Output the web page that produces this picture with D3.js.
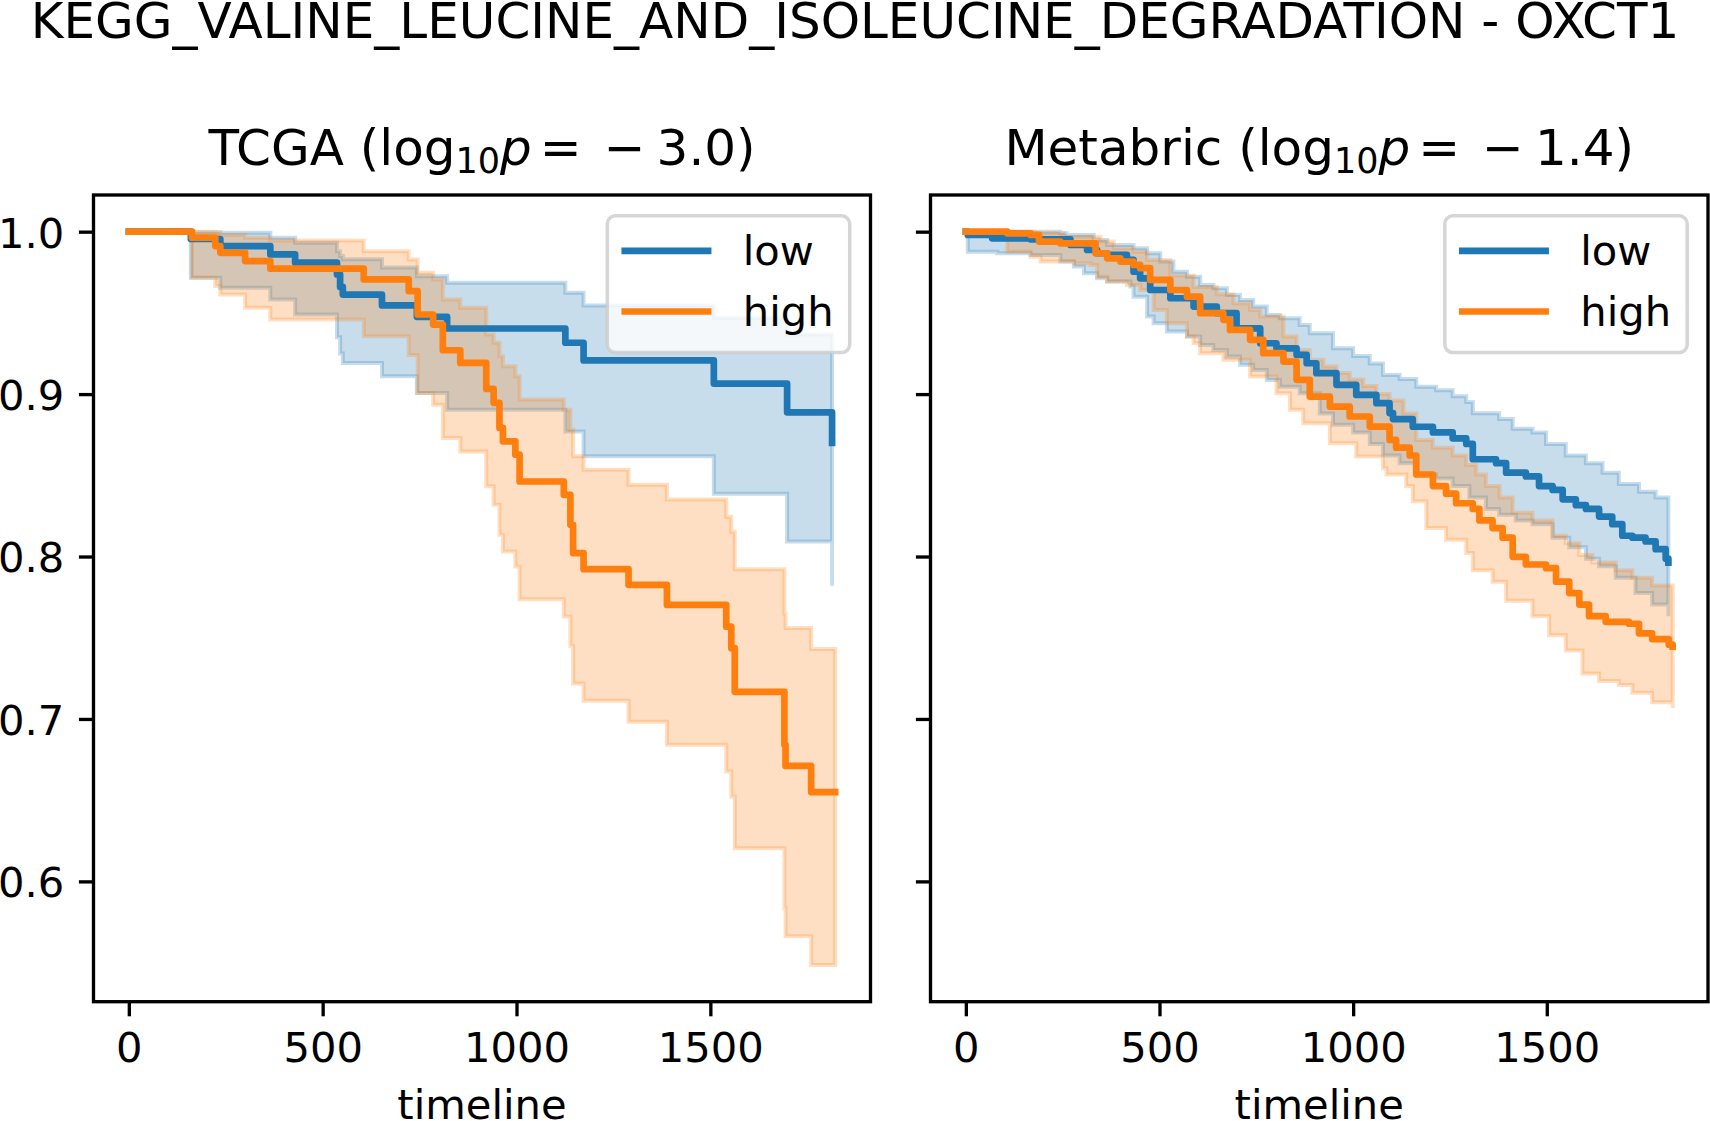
<!DOCTYPE html>
<html>
<head>
<meta charset="utf-8">
<script src="https://cdn.jsdelivr.net/npm/d3@7"></script>
<style>
  body { margin: 0; background: #fff; }
  svg text { font-family: "DejaVu Sans", sans-serif; fill: #000; }
</style>
</head>
<body>
<div id="container"></div>
<script>
const mainTitle = "KEGG_VALINE_LEUCINE_AND_ISOLEUCINE_DEGRADATION - OXCT1";
const cohorts = ["TCGA", "Metabric"];
const cohortLog10p = [-3.0, -1.4];
const groups = ["low", "high"];
const groupColors = ["#1f77b4", "#ff7f0e"];
const xTicks = [0, 500, 1000, 1500];
const yTicks = [0.6, 0.7, 0.8, 0.9, 1.0];
const xLabel = "timeline";

// TCGA - low group (survival and 95% CI at each step)
const tcgaLowTime  = [0, 160, 236, 365, 429, 537, 545, 552, 653, 743, 821, 1126, 1173, 1509, 1698, 1814];
const tcgaLowSurv  = [1.0, 0.9955, 0.9911, 0.986, 0.9809, 0.9737, 0.966, 0.9613, 0.9546, 0.9476, 0.9404, 0.9316, 0.9207, 0.9065, 0.8888, 0.870];
const tcgaLowUpper = [1.0, 0.9997, 0.9994, 0.9963, 0.9932, 0.988, 0.985, 0.983, 0.978, 0.9726, 0.9686, 0.9624, 0.9546, 0.947, 0.9367, 0.930];
const tcgaLowLower = [1.0, 0.9716, 0.9655, 0.9583, 0.949, 0.935, 0.925, 0.9192, 0.911, 0.9007, 0.8904, 0.877, 0.8617, 0.8387, 0.8092, 0.782];

// TCGA - high group
const tcgaHighTime  = [0, 163, 223, 236, 300, 365, 606, 722, 745, 785, 810, 855, 922, 941, 956, 965, 997, 1008, 1122, 1139, 1146, 1173, 1289, 1388, 1541, 1554, 1563, 1691, 1694, 1760, 1822];
const tcgaHighSurv  = [1.0, 0.9963, 0.9911, 0.987, 0.9819, 0.9772, 0.9706, 0.9634, 0.949, 0.9428, 0.927, 0.9192, 0.9032, 0.8946, 0.8792, 0.8709, 0.8627, 0.8462, 0.838, 0.8195, 0.8021, 0.7922, 0.7826, 0.7702, 0.7568, 0.7436, 0.7167, 0.6841, 0.6711, 0.655, 0.655];
const tcgaHighUpper = [1.0, 1.0, 0.9995, 0.998, 0.9963, 0.9945, 0.988, 0.9829, 0.9747, 0.9706, 0.9583, 0.9531, 0.9367, 0.9316, 0.9233, 0.9171, 0.911, 0.8966, 0.8904, 0.8781, 0.8617, 0.8535, 0.8442, 0.8351, 0.8245, 0.8152, 0.7922, 0.765, 0.756, 0.7431, 0.7431];
const tcgaHighLower = [1.0, 0.9716, 0.9665, 0.9613, 0.9531, 0.9459, 0.9356, 0.924, 0.9007, 0.8935, 0.873, 0.8647, 0.8432, 0.8319, 0.8134, 0.8031, 0.7938, 0.7737, 0.7631, 0.745, 0.7219, 0.7112, 0.6983, 0.6841, 0.6676, 0.6523, 0.6204, 0.5838, 0.5662, 0.5485, 0.5485];

// Metabric - low group, [time, value]
const metaLowSurv = [[0,1.0],[5,0.998],[68,0.9959],[167,0.9953],[270,0.9918],[313,0.9887],[339,0.9867],[365,0.9857],[416,0.9826],[433,0.9754],[450,0.9713],[476,0.9641],[528,0.959],[588,0.9539],[648,0.9498],[699,0.9405],[760,0.9313],[802,0.9282],[854,0.9241],[880,0.919],[905,0.9129],[957,0.9057],[1008,0.8995],[1060,0.8944],[1094,0.8883],[1103,0.8846],[1154,0.8799],[1206,0.8764],[1257,0.8728],[1292,0.8693],[1309,0.8599],[1369,0.8575],[1395,0.8516],[1446,0.8493],[1480,0.8434],[1515,0.841],[1541,0.8352],[1575,0.8316],[1601,0.8293],[1635,0.8246],[1669,0.8199],[1695,0.8128],[1721,0.8116],[1755,0.8093],[1781,0.8045],[1807,0.7987],[1814,0.7963]];
const metaLowUpper = [[0,1.0],[244,0.999],[260,0.998],[330,0.9949],[365,0.9918],[433,0.9898],[468,0.9867],[502,0.9816],[536,0.9754],[571,0.9723],[605,0.9672],[639,0.9652],[674,0.961],[708,0.958],[742,0.9539],[777,0.9487],[811,0.9467],[862,0.9426],[888,0.9375],[948,0.9282],[1000,0.9235],[1043,0.9188],[1077,0.9117],[1120,0.9093],[1163,0.9046],[1214,0.9023],[1257,0.8987],[1292,0.8952],[1309,0.8882],[1377,0.8846],[1412,0.8787],[1463,0.8764],[1498,0.8693],[1549,0.8622],[1601,0.8575],[1644,0.8516],[1686,0.8446],[1738,0.8399],[1781,0.8363],[1814,0.8293]];
const metaLowLower = [[0,1.0],[5,0.9877],[81,0.9867],[167,0.9857],[244,0.9816],[279,0.9785],[305,0.9744],[339,0.9713],[365,0.9693],[425,0.9662],[433,0.96],[468,0.9477],[485,0.9436],[519,0.9385],[571,0.9354],[605,0.9303],[639,0.9272],[674,0.9231],[708,0.918],[742,0.9149],[777,0.9087],[811,0.9046],[862,0.9005],[914,0.8881],[948,0.8811],[1000,0.8764],[1043,0.8693],[1077,0.8622],[1120,0.8575],[1163,0.8505],[1214,0.8481],[1257,0.8434],[1300,0.8363],[1343,0.8293],[1377,0.8257],[1420,0.8222],[1463,0.8199],[1515,0.8116],[1558,0.8057],[1601,0.7987],[1635,0.794],[1678,0.7869],[1729,0.7775],[1772,0.7704],[1814,0.7633]];

// Metabric - high group
const metaHighSurv = [[0,1.0],[107,0.999],[167,0.998],[189,0.9939],[244,0.9928],[335,0.9867],[365,0.9836],[399,0.9816],[433,0.9795],[450,0.9775],[476,0.9703],[528,0.9641],[571,0.96],[605,0.9498],[665,0.9457],[682,0.9395],[734,0.9334],[768,0.9252],[820,0.92],[854,0.9088],[888,0.8985],[940,0.8923],[991,0.8862],[1043,0.88],[1094,0.8718],[1111,0.867],[1146,0.8622],[1163,0.8505],[1206,0.8434],[1240,0.8387],[1266,0.8328],[1309,0.8293],[1326,0.8222],[1360,0.8175],[1386,0.8116],[1412,0.7998],[1446,0.7951],[1498,0.7928],[1524,0.7845],[1558,0.7775],[1584,0.7704],[1609,0.7633],[1652,0.7598],[1712,0.7586],[1738,0.7527],[1772,0.7492],[1815,0.7457],[1825,0.7445]];
const metaHighUpper = [[0,1.0],[176,0.999],[253,0.9969],[348,0.9939],[382,0.9898],[433,0.9877],[468,0.9826],[528,0.973],[588,0.966],[648,0.9615],[691,0.9559],[734,0.9518],[760,0.9477],[820,0.9354],[854,0.9272],[888,0.9211],[923,0.917],[957,0.913],[991,0.909],[1026,0.905],[1060,0.9],[1094,0.896],[1130,0.888],[1163,0.8717],[1206,0.867],[1257,0.8622],[1292,0.8564],[1318,0.8505],[1343,0.8434],[1378,0.8363],[1412,0.8269],[1463,0.8222],[1515,0.8128],[1549,0.8081],[1584,0.801],[1618,0.7963],[1678,0.7916],[1721,0.7869],[1772,0.7822],[1825,0.7798]];
const metaHighLower = [[0,1.0],[107,0.9877],[167,0.9846],[193,0.9816],[279,0.9805],[322,0.9795],[339,0.9723],[365,0.9693],[416,0.9672],[450,0.9641],[485,0.9518],[519,0.9436],[571,0.9354],[588,0.9313],[605,0.9252],[665,0.9211],[734,0.9108],[802,0.9005],[837,0.8903],[871,0.8821],[940,0.8698],[1008,0.8616],[1077,0.8544],[1086,0.8505],[1137,0.8434],[1154,0.834],[1189,0.8175],[1240,0.8104],[1292,0.8022],[1309,0.7916],[1360,0.7845],[1395,0.7728],[1463,0.7633],[1506,0.7516],[1549,0.7421],[1592,0.728],[1635,0.7233],[1686,0.7209],[1721,0.7162],[1772,0.7103],[1825,0.7068]];

const panels = [
  [
    { surv: d3.zip(tcgaLowTime, tcgaLowSurv), upper: d3.zip(tcgaLowTime, tcgaLowUpper), lower: d3.zip(tcgaLowTime, tcgaLowLower) },
    { surv: d3.zip(tcgaHighTime, tcgaHighSurv), upper: d3.zip(tcgaHighTime, tcgaHighUpper), lower: d3.zip(tcgaHighTime, tcgaHighLower) }
  ],
  [
    { surv: metaLowSurv, upper: metaLowUpper, lower: metaLowLower },
    { surv: metaHighSurv, upper: metaHighUpper, lower: metaHighLower }
  ]
];

const width = 1710, height = 1121;
const plotTop = 195, plotBottom = 1001.7;
const plotLeft = [93.5, 930.5], plotRight = [870.5, 1708];
const tickFont = 41.67, titleFont = 50;
const spineW = 3.33, tickLen = 14.6, lineW = 6.7;

const svg = d3.select("#container")
  .append("svg")
  .attr("width", width)
  .attr("height", height);

svg.append("text")
  .attr("x", 855)
  .attr("y", 38)
  .attr("text-anchor", "middle")
  .attr("font-size", titleFont)
  .text(mainTitle);

// shared y scale, 5% margins like matplotlib
const allVals = panels.flat().flatMap(s => s.surv.concat(s.upper, s.lower)).map(d => d[1]);
const yMin = d3.min(allVals), yMax = d3.max(allVals), yPad = (yMax - yMin) * 0.05;
const y = d3.scaleLinear()
  .domain([yMin - yPad, yMax + yPad])
  .range([plotBottom, plotTop]);

function stepPoints(pts) {
  const out = [];
  pts.forEach((p, i) => {
    if (i > 0) out.push([p[0], pts[i - 1][1]]);
    out.push(p);
  });
  return out;
}

panels.forEach((series, idx) => {
  const left = plotLeft[idx], right = plotRight[idx];
  const tmax = d3.max(series, s => d3.max(s.surv.concat(s.upper, s.lower), d => d[0]));
  const x = d3.scaleLinear()
    .domain([-0.05 * tmax, 1.05 * tmax])
    .range([left, right]);

  const g = svg.append("g");
  const poly = d3.line().x(d => x(d[0])).y(d => y(d[1]));
  const step = d3.line().x(d => x(d[0])).y(d => y(d[1])).curve(d3.curveStepAfter);

  // confidence bands (drawn below the lines)
  series.forEach((s, i) => {
    g.append("path")
      .attr("d", poly(stepPoints(s.upper).concat(stepPoints(s.lower).reverse())) + "Z")
      .attr("fill", groupColors[i])
      .attr("fill-opacity", 0.25)
      .attr("stroke", groupColors[i])
      .attr("stroke-opacity", 0.25)
      .attr("stroke-width", 4);
  });

  series.forEach((s, i) => {
    g.append("path")
      .datum(s.surv)
      .attr("d", step)
      .attr("fill", "none")
      .attr("stroke", groupColors[i])
      .attr("stroke-width", lineW)
      .attr("stroke-linejoin", "round")
      .attr("stroke-linecap", "square");
  });

  // axes
  const xAxis = g.append("g")
    .attr("transform", `translate(0,${plotBottom})`)
    .call(d3.axisBottom(x).tickValues(xTicks).tickFormat(d3.format("d"))
      .tickSize(tickLen).tickSizeOuter(0).tickPadding(16.5));
  const yAxis = g.append("g")
    .attr("transform", `translate(${left},0)`)
    .call(d3.axisLeft(y).tickValues(yTicks)
      .tickFormat(idx === 0 ? d3.format(".1f") : () => "")
      .tickSize(tickLen).tickSizeOuter(0).tickPadding(14.6));
  [xAxis, yAxis].forEach(a => {
    a.select(".domain").remove();
    a.selectAll(".tick line").attr("stroke", "#000").attr("stroke-width", spineW);
    a.selectAll(".tick text").attr("font-size", tickFont).attr("font-family", "DejaVu Sans").attr("fill", "#000");
  });
  yAxis.selectAll(".tick text").attr("dy", "0.37em");

  g.append("rect")
    .attr("x", left)
    .attr("y", plotTop)
    .attr("width", right - left)
    .attr("height", plotBottom - plotTop)
    .attr("fill", "none")
    .attr("stroke", "#000")
    .attr("stroke-width", spineW);

  g.append("text")
    .attr("x", (left + right) / 2)
    .attr("y", 1119)
    .attr("text-anchor", "middle")
    .attr("font-size", tickFont)
    .text(xLabel);

  // panel title with log10 p
  const title = g.append("text")
    .attr("x", (left + right) / 2)
    .attr("y", 165)
    .attr("text-anchor", "middle")
    .attr("font-size", titleFont);
  title.append("tspan").text(cohorts[idx] + " (log");
  title.append("tspan").attr("font-size", 35).attr("dy", 8.3).text("10");
  title.append("tspan").attr("font-style", "italic").attr("dy", -8.3).text("p");
  title.append("tspan").attr("dx", 8).text("=");
  title.append("tspan").attr("dx", 22).text(cohortLog10p[idx] < 0 ? "\u2212" : "");
  title.append("tspan").attr("dx", 11).text(Math.abs(cohortLog10p[idx]).toFixed(1) + ")");

  // legend
  const boxW = 242.4, boxH = 136.7;
  const bx = right - 20.8 - boxW, by = plotTop + 20.8;
  const legend = g.append("g");
  legend.append("rect")
    .attr("x", bx)
    .attr("y", by)
    .attr("width", boxW)
    .attr("height", boxH)
    .attr("rx", 8)
    .attr("fill", "#fff")
    .attr("fill-opacity", 0.8)
    .attr("stroke", "#ccc")
    .attr("stroke-opacity", 0.8)
    .attr("stroke-width", 3.5);
  groups.forEach((name, i) => {
    const ly = by + 35 + i * 60.7;
    legend.append("line")
      .attr("x1", bx + 17.5)
      .attr("x2", bx + 17.5 + 83.3)
      .attr("y1", ly)
      .attr("y2", ly)
      .attr("stroke", groupColors[i])
      .attr("stroke-width", lineW)
      .attr("stroke-linecap", "square");
    legend.append("text")
      .attr("x", bx + 135.5)
      .attr("y", ly + 14.5)
      .attr("font-size", tickFont)
      .text(name);
  });
});
</script>
</body>
</html>
